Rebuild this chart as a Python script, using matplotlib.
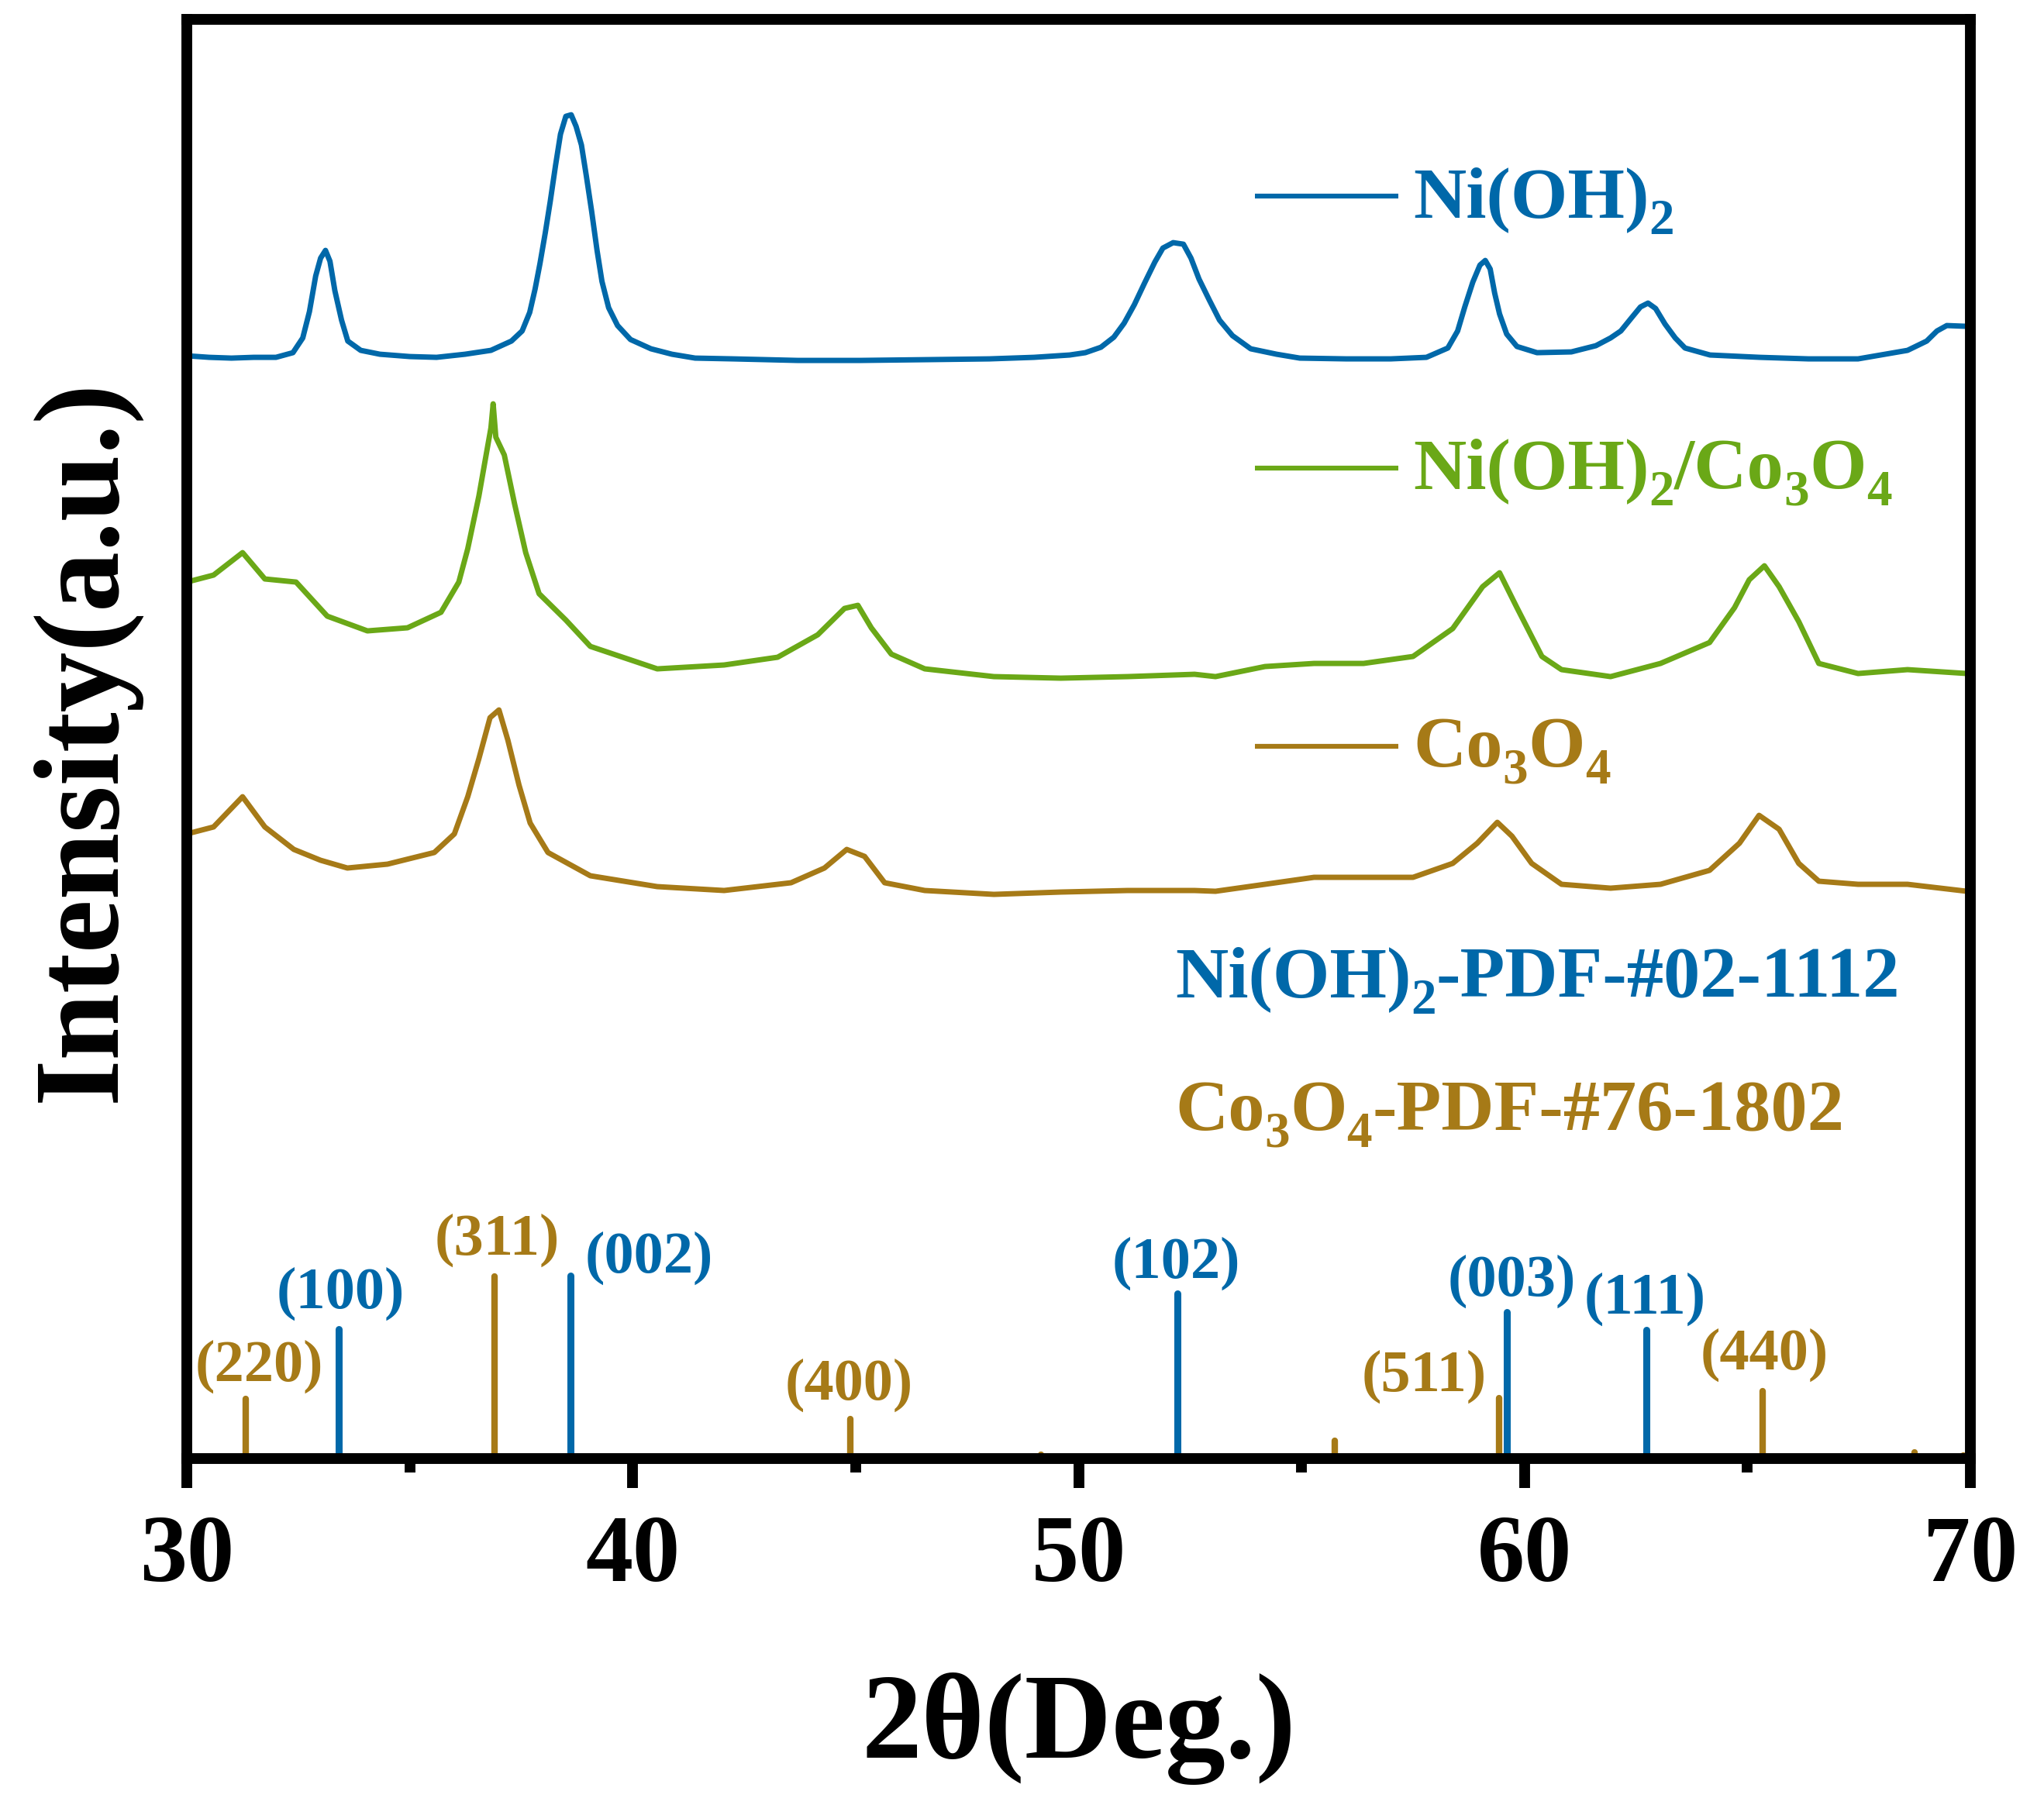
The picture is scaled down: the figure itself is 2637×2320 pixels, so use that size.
import matplotlib
matplotlib.use('Agg')
import matplotlib.pyplot as plt

# ---------------- data ----------------
two_theta_ni = [30.0,30.5,31.0,31.5,32.0,32.38,32.6,32.75,32.89,33.0,33.11,33.21,33.32,33.47,33.61,33.9,34.33,
                35.0,35.6,36.24,36.82,37.28,37.52,37.69,37.81,37.92,38.04,38.15,38.27,38.38,38.5,38.62,
                38.73,38.85,38.96,39.08,39.2,39.31,39.46,39.66,39.95,40.41,40.88,41.4,42.25,43.7,45.1,46.6,
                48.0,49.0,49.8,50.15,50.5,50.79,51.02,51.25,51.48,51.71,51.89,52.12,52.35,52.52,52.7,52.93,
                53.16,53.45,53.86,54.44,54.96,56.0,57.0,57.8,58.28,58.5,58.66,58.84,59.0,59.12,59.23,59.33,
                59.44,59.6,59.83,60.28,61.05,61.6,61.93,62.16,62.4,62.6,62.77,62.94,63.15,63.38,63.6,64.16,
                65.27,66.37,67.48,68.59,69.02,69.25,69.47,69.92,70.0]
intensity_ni = [1423,1421,1420,1421,1421,1427,1446,1480,1526,1549,1559,1545,1507,1469,1442,1430,1425,
                1422,1421,1425,1430,1442,1455,1479,1509,1542,1582,1622,1669,1709,1732,1734,
                1719,1695,1655,1609,1559,1519,1485,1462,1444,1432,1425,1420,1419,1417,1417,1418,
                1419,1421,1424,1427,1434,1447,1465,1489,1517,1544,1562,1569,1567,1549,1522,1495,
                1469,1449,1432,1425,1420,1419,1419,1421,1433,1455,1486,1518,1540,1546,1535,1504,
                1477,1451,1435,1427,1428,1436,1446,1455,1472,1486,1491,1484,1464,1446,1433,1424,
                1421,1419,1419,1430,1442,1455,1462,1461,1461]

two_theta_nico = [30.0,30.6,31.25,31.75,32.45,33.15,34.05,34.95,35.7,36.1,36.3,36.55,36.7,36.82,36.87,36.93,
                  37.12,37.35,37.6,37.9,38.5,39.05,40.55,42.05,43.25,44.15,44.75,45.05,45.35,45.8,46.55,48.1,
                  49.6,51.1,52.6,53.07,54.18,55.28,56.39,57.5,58.39,59.06,59.44,59.83,60.39,60.83,61.93,
                  63.05,64.15,64.71,65.04,65.38,65.71,66.15,66.6,67.48,68.59,69.92,70.0]
intensity_nico = [1131,1140,1169,1135,1131,1087,1068,1072,1092,1131,1174,1242,1291,1330,1361,1318,
                  1295,1232,1169,1116,1082,1048,1019,1024,1034,1063,1097,1101,1072,1038,1019,1009,
                  1007,1009,1012,1009,1022,1026,1026,1035,1071,1125,1143,1098,1035,1018,1009,
                  1026,1053,1098,1134,1152,1125,1080,1026,1013,1018,1013,1013]

two_theta_co = [30.0,30.6,31.25,31.75,32.4,33.0,33.6,34.5,35.55,36.0,36.3,36.55,36.8,37.0,37.2,37.45,37.7,
                38.1,39.05,40.55,42.05,43.55,44.3,44.8,45.2,45.65,46.55,48.1,49.6,51.1,52.6,
                53.07,54.18,55.28,56.39,57.5,58.39,58.94,59.39,59.72,60.16,60.83,61.93,63.05,64.15,
                64.82,65.26,65.71,66.15,66.6,67.48,68.59,69.92,70.0]
intensity_co = [806,815,854,815,786,772,762,767,782,806,854,903,956,966,927,869,820,
                782,752,738,733,743,762,786,777,743,733,728,731,733,733,
                732,741,750,750,750,768,794,821,803,768,741,736,741,759,
                794,830,812,768,745,741,741,732,732]

# reference patterns (stick positions and heights)
pdf_ni_pos = [33.40, 38.60, 52.22, 59.60, 62.73]
pdf_ni_h = [167, 236, 213, 189, 166]
pdf_ni_hkl = ['(100)', '(002)', '(102)', '(003)', '(111)']

pdf_co_pos = [31.32, 36.90, 44.88, 49.16, 55.75, 59.43, 65.34, 68.75, 69.85]
pdf_co_h = [77, 235, 51, 5, 23, 78, 87, 8, 4]
pdf_co_hkl = ['(220)', '(311)', '(400)', '', '', '(511)', '(440)', '', '']

# labels as (text, is_subscript) segments
series_labels = [
    [('Ni(OH)', False), ('2', True)],
    [('Ni(OH)', False), ('2', True), ('/Co', False), ('3', True), ('O', False), ('4', True)],
    [('Co', False), ('3', True), ('O', False), ('4', True)],
]
pdf_labels = [
    [('Ni(OH)', False), ('2', True), ('-PDF-#02-1112', False)],
    [('Co', False), ('3', True), ('O', False), ('4', True), ('-PDF-#76-1802', False)],
]

# ---------------- layout / style ----------------
BLUE = '#0068A9'
GREEN = '#6AA817'
BROWN = '#A67A17'
W, H, DPI = 2637, 2320, 100

ni_lab_pos = [(33.44, 194), (40.36, 240), (52.18, 233), (59.71, 210), (62.70, 187)]
co_lab_pos = {'(220)': (31.63, 100), '(311)': (36.95, 263), '(400)': (44.85, 76),
              '(511)': (57.74, 87), '(440)': (65.38, 115)}

plt.rcParams['font.family'] = ['Liberation Serif', 'DejaVu Serif']
plt.rcParams['font.weight'] = 'bold'

fig = plt.figure(figsize=(W / DPI, H / DPI), dpi=DPI)
ax = fig.add_axes([0.0914, 0.1888, 0.8726, 0.8006])

lw = 5
ax.plot(two_theta_ni, intensity_ni, color=BLUE, lw=lw, solid_joinstyle='round', solid_capstyle='butt')
ax.plot(two_theta_nico, intensity_nico, color=GREEN, lw=lw, solid_joinstyle='round', solid_capstyle='butt')
ax.plot(two_theta_co, intensity_co, color=BROWN, lw=lw, solid_joinstyle='round', solid_capstyle='butt')

vl1 = ax.vlines(pdf_co_pos, 0, pdf_co_h, color=BROWN, lw=6)
vl2 = ax.vlines(pdf_ni_pos, 0, pdf_ni_h, color=BLUE, lw=6.5)
vl1.set_capstyle('round'); vl2.set_capstyle('round')

fs_hkl = 55
for lab, (x, y) in zip(pdf_ni_hkl, ni_lab_pos):
    ax.text(x, y, lab, color=BLUE, fontsize=fs_hkl, ha='center', va='baseline', fontweight='bold')
for lab in pdf_co_hkl:
    if lab:
        x, y = co_lab_pos[lab]
        ax.text(x, y, lab, color=BROWN, fontsize=fs_hkl, ha='center', va='baseline', fontweight='bold')

renderer = fig.canvas.get_renderer()


def rich_text(x_px, base_px, segments, color, size):
    x = x_px
    for s, sub in segments:
        fs = size * 0.69 if sub else size
        dy = 0.23 * size * DPI / 72 if sub else 0
        t = fig.text(x / W, 1 - (base_px + dy) / H, s, fontsize=fs, color=color,
                     ha='left', va='baseline', fontweight='bold')
        x += t.get_window_extent(renderer).width


fs_leg = 68
leg_line_px = [253, 604, 963]
leg_base_px = [280, 630, 989]
for segs, c, ly, by in zip(series_labels, [BLUE, GREEN, BROWN], leg_line_px, leg_base_px):
    ax.plot([1619 / W, 1804 / W], [1 - ly / H, 1 - ly / H], color=c, lw=4.5,
            transform=fig.transFigure, solid_capstyle='butt')
    rich_text(1823, by, segs, c, fs_leg)
rich_text(1516, 1286, pdf_labels[0], BLUE, fs_leg)
rich_text(1516, 1458, pdf_labels[1], BROWN, fs_leg)

ax.set_xlim(30, 70)
ax.set_ylim(0, 1857.5)
ax.set_xticks([30, 40, 50, 60, 70])
ax.set_xticks([35, 45, 55, 65], minor=True)
ax.set_yticks([])
ax.tick_params(axis='x', which='major', direction='out', length=27.4, width=10, pad=25, labelsize=88)
ax.tick_params(axis='x', which='minor', direction='out', length=13, width=10)
for s in ax.spines.values():
    s.set_linewidth(10)
for t in ax.get_xticklabels():
    t.set_fontweight('bold')

fig.text(1391.5 / W, 1 - 2268 / H, '2θ(Deg.)', fontsize=112, ha='center', va='baseline', fontweight='bold')
fig.text(147 / W, 1 - 955 / H, 'Intensity(a.u.)', fontsize=112, ha='center', va='baseline',
         rotation=90, rotation_mode='anchor', fontweight='bold')

fig.savefig('out.png', dpi=DPI)
